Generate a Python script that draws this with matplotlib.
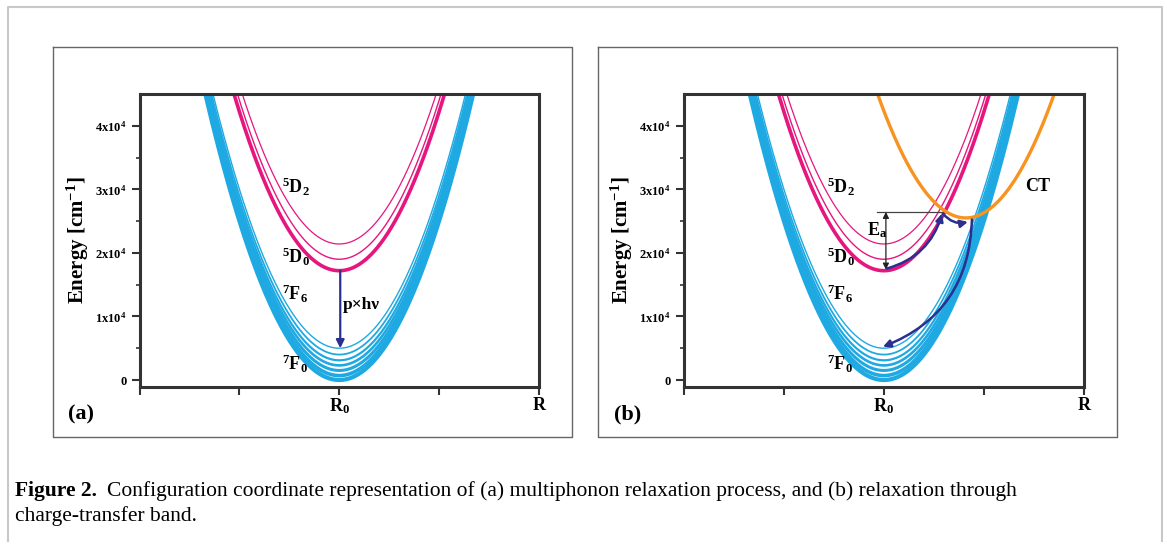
import matplotlib
matplotlib.use("Agg")
import matplotlib.pyplot as plt
import numpy as np
from matplotlib.patches import FancyArrowPatch
from matplotlib.lines import Line2D

plt.rcParams['font.family'] = 'Liberation Serif'
plt.rcParams['mathtext.fontset'] = 'custom'
plt.rcParams['mathtext.rm'] = 'Liberation Serif:bold'
plt.rcParams['mathtext.it'] = 'Liberation Serif:bold'
plt.rcParams['mathtext.bf'] = 'Liberation Serif:bold'

# level minima (cm^-1) and shapes
f_minima = [0, 700, 1500, 2300, 3100, 4000, 5000]     # 7F0 .. 7F6
f_widths = [3.0, 2.6, 2.2, 1.9, 1.6, 1.3, 1.0]
d_minima = [17200, 19000, 21400]                       # 5D0, 5D1, 5D2
d_widths = [2.6, 1.0, 0.9]
ct_center, ct_min = 2.82, 25500
k_curv = 25000
r0 = 2.0

ytick_vals = [0, 10000, 20000, 30000, 40000]
ytick_labels = ['0', r'1x10$^4$', r'2x10$^4$', r'3x10$^4$', r'4x10$^4$']
xtick_vals = [0, 1, 2, 3, 4]
xtick_labels = ['', '', r'R$_0$', '', 'R']

level_labels = [(r'$^{5}$D$_{2}$', 30400), (r'$^{5}$D$_{0}$', 19400),
                (r'$^{7}$F$_{6}$', 13600), (r'$^{7}$F$_{0}$', 2600)]

blue = '#1fa9e2'
pink = '#e6167f'
orange = '#f7931e'
navy = '#2b2f8e'

W, H = 1167, 545
fig = plt.figure(figsize=(W / 100, H / 100), dpi=100)


def px(x0, y0, x1, y1):
    return [x0 / W, 1 - y1 / H, (x1 - x0) / W, (y1 - y0) / H]


def fig_line(xs, ys, color, lw):
    fig.add_artist(Line2D([x / W for x in xs], [1 - y / H for y in ys],
                          transform=fig.transFigure, color=color, lw=lw))


# outer border and panel boxes
fig_line([8, 8, 1162, 1162], [541, 7, 7, 541], '#c8c8c8', 1.5)
for x0, x1 in [(53, 572), (598, 1117)]:
    fig_line([x0, x1, x1, x0, x0], [47, 47, 437, 437, 47], '#666666', 1.0)

x = np.linspace(-0.5, 4.5, 800)


def draw_panel(ax, tag, tag_x):
    for e0, lw in zip(f_minima, f_widths):
        ax.plot(x, k_curv * (x - r0) ** 2 + e0, color=blue, lw=lw)
    for e0, lw in zip(d_minima, d_widths):
        ax.plot(x, k_curv * (x - r0) ** 2 + e0, color=pink, lw=lw)
    ax.set_xlim(0, 4)
    ax.set_ylim(-1100, 45000)
    ax.set_yticks(ytick_vals)
    ax.set_yticklabels(ytick_labels, fontsize=9, fontweight='bold')
    ax.set_yticks([5000, 15000, 25000, 35000], minor=True)
    ax.set_xticks(xtick_vals)
    ax.set_xticklabels(xtick_labels, fontsize=13, fontweight='bold')
    ax.tick_params(axis='both', which='major', direction='out', length=6,
                   width=1.5, color='#333333')
    ax.tick_params(axis='x', which='major', pad=1)
    ax.tick_params(axis='y', which='minor', direction='out', length=3,
                   width=1.2, color='#333333')
    for s in ax.spines.values():
        s.set_linewidth(2.2)
        s.set_color('#333333')
    ax.set_ylabel(r'Energy [cm$^{-1}$]', fontsize=15, fontweight='bold',
                  labelpad=3)
    for lab, e in level_labels:
        ax.text(1.43, e, lab, fontsize=13, fontweight='bold',
                ha='left', va='center')
    ax.text(tag_x, -5500, tag, fontsize=16, fontweight='bold',
            ha='center', va='center', clip_on=False)


ax1 = fig.add_axes(px(139.6, 94, 538.9, 387))
draw_panel(ax1, '(a)', -0.59)
ax1.annotate('', xy=(2.01, 5000), xytext=(2.01, 17200),
             arrowprops=dict(arrowstyle='-|>', color=navy, lw=1.6,
                             mutation_scale=12, shrinkA=0, shrinkB=0))
ax1.text(2.04, 11800, 'p×hν', fontsize=12.5, fontweight='bold',
         ha='left', va='center')

ax2 = fig.add_axes(px(683.9, 94, 1083.9, 387))
draw_panel(ax2, '(b)', -0.56)
ax2.plot(x, k_curv * (x - ct_center) ** 2 + ct_min, color=orange, lw=2.4)
ax2.text(3.54, 30400, 'CT', fontsize=13, fontweight='bold',
         ha='center', va='center')

# activation energy
ax2.plot([1.93, 2.58], [26440, 26440], color='#444444', lw=0.9)
ax2.annotate('', xy=(2.02, 26440), xytext=(2.02, 17380),
             arrowprops=dict(arrowstyle='<|-|>', color='#222222', lw=0.9,
                             mutation_scale=9, shrinkA=0, shrinkB=0))
ax2.text(1.93, 23500, r'E$_{a}$', fontsize=13, fontweight='bold',
         ha='center', va='center')

# relaxation path through the CT band
arrows = [((2.03, 17540), (2.58, 26180), 0.28),
          ((2.59, 26180), (2.84, 24870), 0.3),
          ((2.88, 25240), (1.99, 5230), -0.33)]
for start, end, rad in arrows:
    ax2.add_patch(FancyArrowPatch(start, end, arrowstyle='-|>',
                                  connectionstyle='arc3,rad=%s' % rad,
                                  color=navy, lw=1.8, mutation_scale=11,
                                  shrinkA=0, shrinkB=0, zorder=5))

# caption
r = fig.canvas.get_renderer()
t1 = fig.text(15 / W, 1 - 491 / H, 'Figure 2.', fontsize=15.5,
              fontweight='bold', va='center')
bb = t1.get_window_extent(r)
fig.text((bb.x1 + 10) / W, 1 - 491 / H,
         'Configuration coordinate representation of (a) multiphonon '
         'relaxation process, and (b) relaxation through',
         fontsize=15.5, va='center')
fig.text(15 / W, 1 - 516 / H, 'charge-transfer band.', fontsize=15.5,
         va='center')

fig.savefig('out.png', dpi=100)
